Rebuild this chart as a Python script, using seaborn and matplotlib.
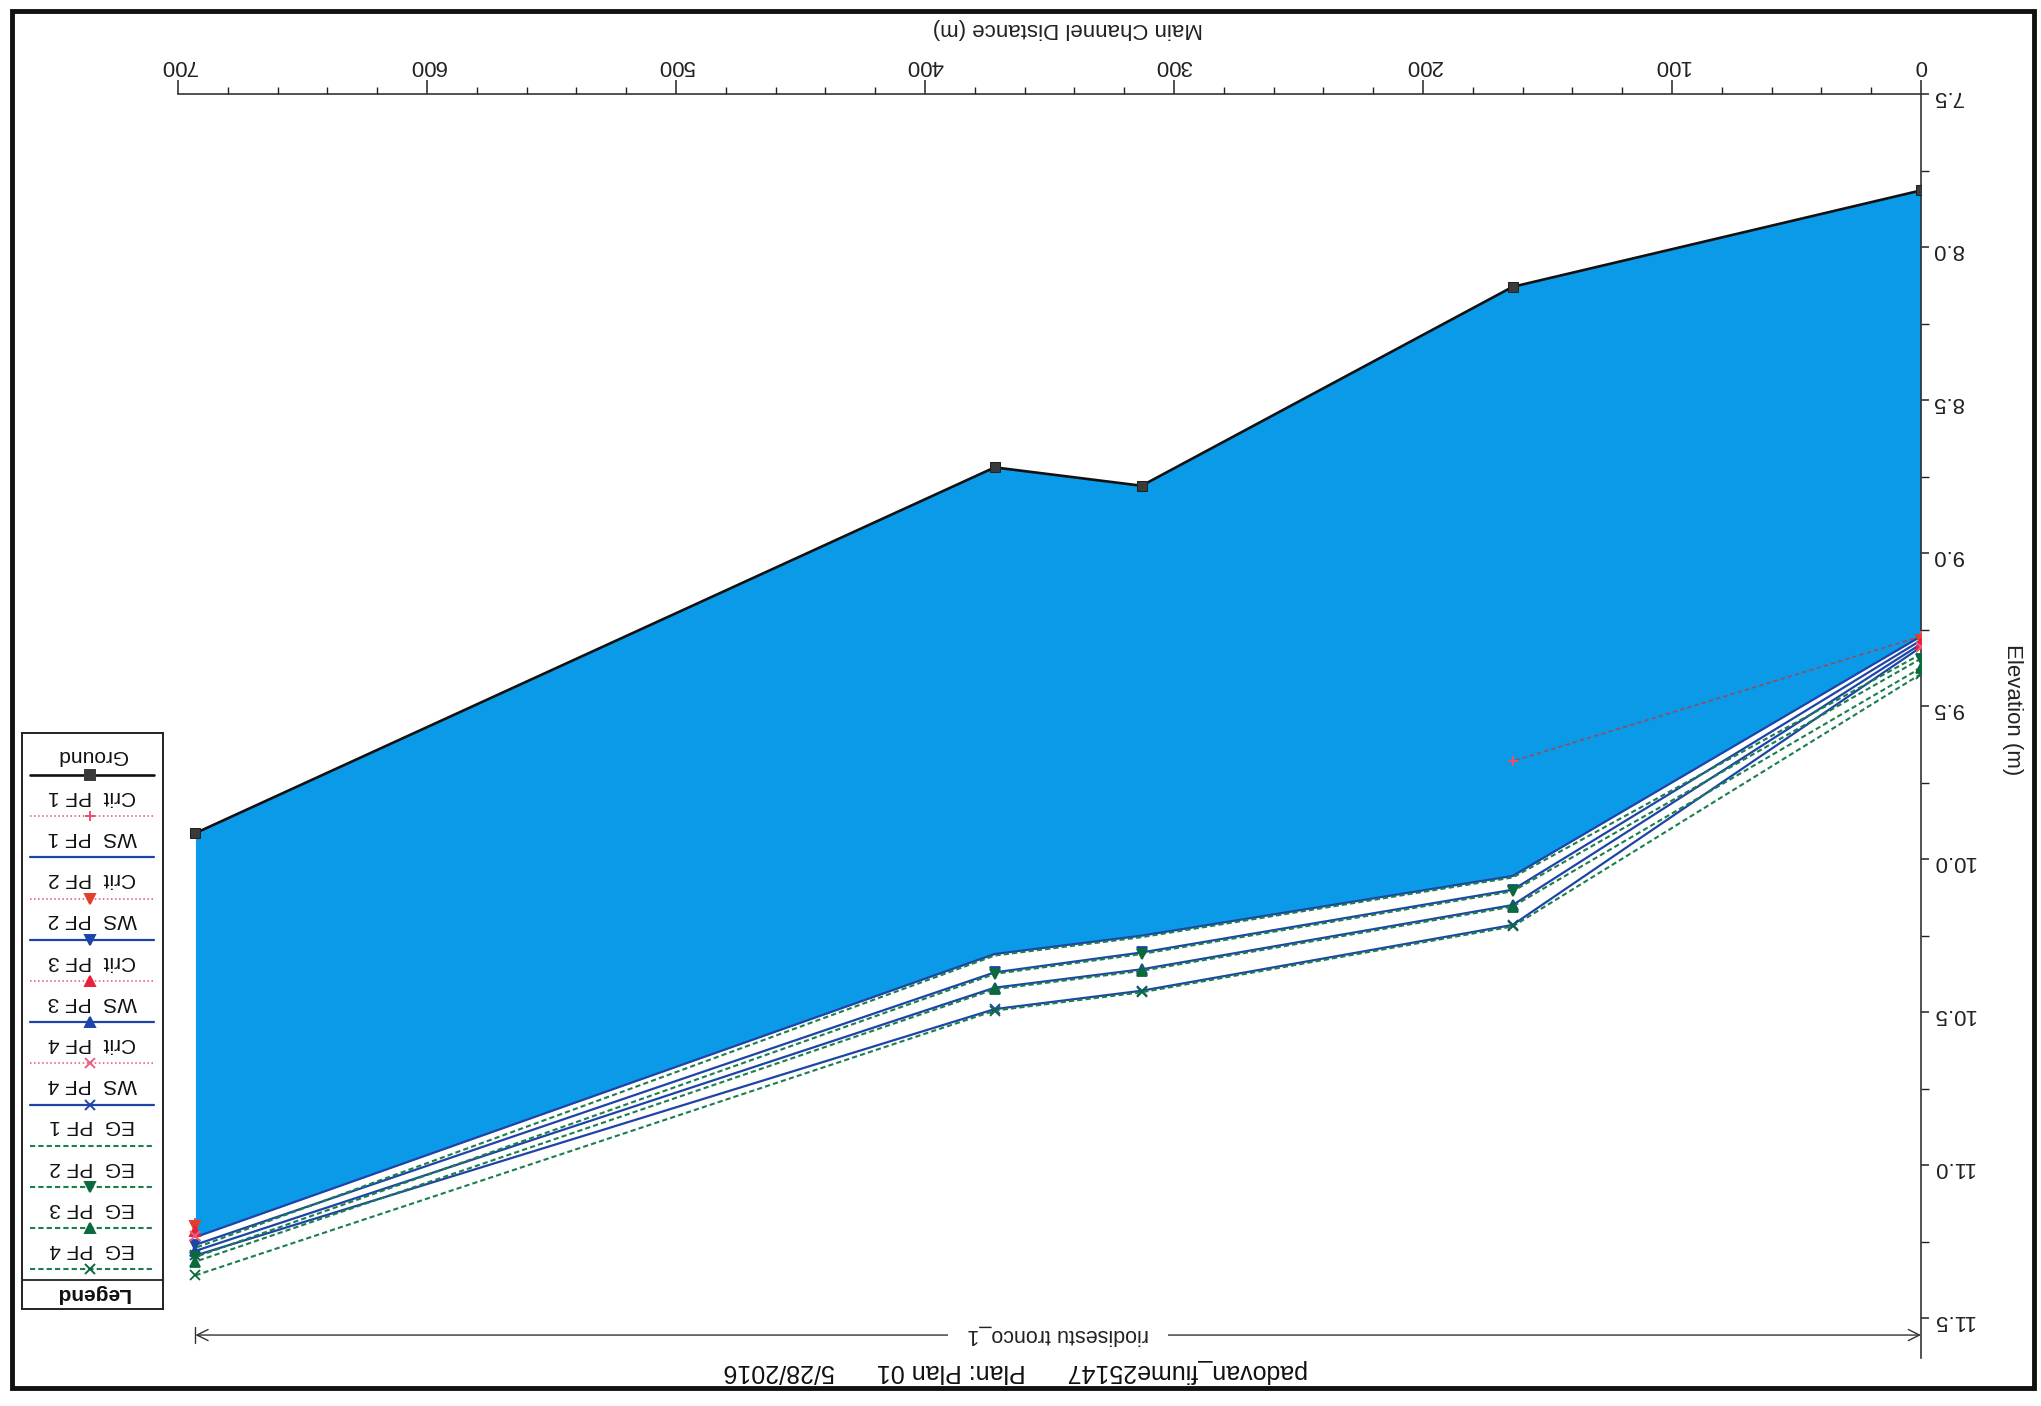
import numpy as np
import matplotlib
matplotlib.use("Agg")
import matplotlib.pyplot as plt
from matplotlib.patches import Rectangle
from matplotlib.ticker import MultipleLocator, FormatStrFormatter
import seaborn as sns

nan = np.nan

# River stations along the main channel (m)
stations = [0, 164, 313, 372, 693]

# Channel invert
ground = [7.815, 8.13, 8.78, 8.72, 9.915]

# Water surface per profile
ws_pf1 = [9.272, 10.055, 10.250, 10.310, 11.235]
ws_pf2 = [9.285, 10.100, 10.305, 10.370, 11.260]
ws_pf3 = [9.297, 10.150, 10.360, 10.420, 11.280]
ws_pf4 = [9.307, 10.215, 10.430, 10.490, 11.295]

# Energy grade line per profile
eg_pf1 = [9.330, 10.060, 10.255, 10.315, 11.270]
eg_pf2 = [9.345, 10.105, 10.310, 10.375, 11.300]
eg_pf3 = [9.375, 10.155, 10.365, 10.425, 11.315]
eg_pf4 = [9.395, 10.220, 10.435, 10.495, 11.360]

# Critical depth elevations (only where computed)
crit_pf1 = [9.272, 9.680, nan, nan, 11.190]
crit_pf2 = [9.285, nan, nan, nan, 11.200]
crit_pf3 = [9.297, nan, nan, nan, 11.215]
crit_pf4 = [9.307, nan, nan, nan, 11.230]

reach_name = "riodisestu tronco_1"
title_text = "padovan_fiume25147      Plan: Plan 01      5/28/2016"

W, H = 2041, 1406
sns.set_theme(style="ticks")
plt.rcParams["font.family"] = ["Liberation Sans", "DejaVu Sans"]

WATER = "#0A9AE8"
WS_C = "#1E44A8"
EG_C = "#1B7F4C"
EG_M = "#0B6A3C"
CRIT_C = "#E8506E"
CRIT_LINE = "#A04858"
CRIT_M = ["#E8506E", "#E2402A", "#E8203A", "#E86080"]
GROUND_C = "#111111"

fig = plt.figure(figsize=(W / 100, H / 100), dpi=100)
fig.patch.set_facecolor("white")

ax_l, ax_r, ax_t, ax_b = 178, 1921, 94, 1358
ax = fig.add_axes([ax_l / W, 1 - ax_b / H, (ax_r - ax_l) / W, (ax_b - ax_t) / H])
ax.set_facecolor("white")

# water body between bed and first profile
ax.fill_between(stations, ground, ws_pf1, color=WATER, lw=0, zorder=1)

ws_series = [(ws_pf1, None), (ws_pf2, "v"), (ws_pf3, "^"), (ws_pf4, "x")]
for vals, mk in ws_series:
    sns.lineplot(x=stations, y=vals, ax=ax, color=WS_C, lw=1.6, marker=mk,
                 markersize=6.5, markeredgecolor=WS_C, markerfacecolor=WS_C,
                 markeredgewidth=1.3, zorder=3, legend=False)

eg_series = [(eg_pf1, None), (eg_pf2, "v"), (eg_pf3, "^"), (eg_pf4, "x")]
for vals, mk in eg_series:
    sns.lineplot(x=stations, y=vals, ax=ax, color=EG_C, lw=1.5,
                 linestyle=(0, (2.5, 1.5)), marker=mk, markersize=6.5,
                 markeredgecolor=EG_M, markerfacecolor=EG_M,
                 markeredgewidth=1.3, zorder=4, legend=False)

crit_series = [(crit_pf1, "+"), (crit_pf2, "v"), (crit_pf3, "^"), (crit_pf4, "x")]
for (vals, mk), mc in zip(crit_series, CRIT_M):
    ax.plot(stations, vals, color=CRIT_LINE, lw=1.2, linestyle=(0, (2.5, 2)),
            marker=mk, markersize=6.5, markeredgecolor=mc, markerfacecolor=mc,
            markeredgewidth=1.4, zorder=5)

sns.lineplot(x=stations, y=ground, ax=ax, color=GROUND_C, lw=1.9, marker="s",
             markersize=6.5, markeredgecolor="#222222", markerfacecolor="#3a3a3a",
             zorder=6, legend=False)

# reach extent arrow with name
y_reach = 11.555
ax.annotate("", xy=(stations[0], y_reach), xytext=(stations[-1], y_reach),
            arrowprops=dict(arrowstyle="<->", lw=1.0, color="#333333",
                            shrinkA=0, shrinkB=0, mutation_scale=20), zorder=2)
ax.plot([stations[-1], stations[-1]], [y_reach - 0.025, y_reach + 0.025],
        color="#333333", lw=1.0)
ax.text((stations[0] + stations[-1]) / 2, y_reach, reach_name, rotation=180,
        ha="center", va="center", fontsize=15.5, color="#222222",
        bbox=dict(facecolor="white", edgecolor="none", pad=14), zorder=3)

ax.set_xlim(700, 0)
ax.set_ylim(11.63, 7.5)
ax.xaxis.set_major_locator(MultipleLocator(100))
ax.xaxis.set_minor_locator(MultipleLocator(20))
ax.yaxis.set_major_locator(MultipleLocator(0.5))
ax.yaxis.set_minor_locator(MultipleLocator(0.25))
ax.yaxis.set_major_formatter(FormatStrFormatter("%.1f"))
ax.xaxis.tick_top()
ax.yaxis.tick_right()
ax.tick_params(axis="x", which="major", direction="out", length=10, width=1.1,
               pad=3, labelsize=16, labelrotation=180, colors="#222222")
ax.tick_params(axis="x", which="minor", direction="out", length=5, width=1.0,
               colors="#222222")
ax.tick_params(axis="y", which="major", direction="out", length=6, width=1.1,
               pad=2, labelsize=16, labelrotation=180, colors="#222222")
ax.tick_params(axis="y", which="minor", direction="out", length=5.5, width=1.0,
               colors="#222222")
for side in ("left", "bottom"):
    ax.spines[side].set_visible(False)
for side in ("top", "right"):
    ax.spines[side].set_linewidth(1.2)
    ax.spines[side].set_color("#333333")
ax.set_xlabel("")
ax.set_ylabel("")

fig.text(1068 / W, 1 - 29 / H, "Main Channel Distance (m)", rotation=180,
         ha="center", va="center", fontsize=16, color="#222222")
fig.text(2012 / W, 1 - 710 / H, "Elevation (m)", rotation=270,
         ha="center", va="center", fontsize=16, color="#222222")
fig.text(1016 / W, 1 - 1371 / H, title_text, rotation=180,
         ha="center", va="center", fontsize=18, color="#111111")

# legend panel
lx0, lx1, ly0, ly1 = 22, 163, 733, 1309
lax = fig.add_axes([lx0 / W, 1 - ly1 / H, (lx1 - lx0) / W, (ly1 - ly0) / H])
lw_box, lh_box = lx1 - lx0, ly1 - ly0
lax.set_xlim(0, lw_box)
lax.set_ylim(lh_box, 0)
lax.set_xticks([])
lax.set_yticks([])
lax.set_facecolor("white")
for s in lax.spines.values():
    s.set_linewidth(1.4)
    s.set_color("#222222")

legend_items = [
    ("Ground", GROUND_C, "-", "s", "#3a3a3a", 1.9),
    ("Crit  PF 1", CRIT_C, ":", "+", CRIT_M[0], 1.1),
    ("WS  PF 1", WS_C, "-", None, WS_C, 1.6),
    ("Crit  PF 2", CRIT_C, ":", "v", CRIT_M[1], 1.1),
    ("WS  PF 2", WS_C, "-", "v", WS_C, 1.6),
    ("Crit  PF 3", CRIT_C, ":", "^", CRIT_M[2], 1.1),
    ("WS  PF 3", WS_C, "-", "^", WS_C, 1.6),
    ("Crit  PF 4", CRIT_C, ":", "x", CRIT_M[3], 1.1),
    ("WS  PF 4", WS_C, "-", "x", WS_C, 1.6),
    ("EG  PF 1", EG_C, (0, (2.5, 1.5)), None, EG_M, 1.5),
    ("EG  PF 2", EG_C, (0, (2.5, 1.5)), "v", EG_M, 1.5),
    ("EG  PF 3", EG_C, (0, (2.5, 1.5)), "^", EG_M, 1.5),
    ("EG  PF 4", EG_C, (0, (2.5, 1.5)), "x", EG_M, 1.5),
]
for i, (lab, col, ls, mk, mcol, lw) in enumerate(legend_items):
    ty = 22 + i * 41.2
    lax.text(lw_box / 2, ty, lab, rotation=180, ha="center", va="center",
             fontsize=15, color="#111111")
    lax.plot([8, lw_box - 9], [ty + 20, ty + 20], color=col, ls=ls, lw=lw)
    if mk:
        lax.plot([lw_box / 2 - 2], [ty + 20], marker=mk, color=mcol, ms=6.5,
                 mec=mcol, mew=1.4, ls="none")
lax.axhline(547, color="#222222", lw=1.3)
lax.text(lw_box / 2, 561, "Legend", rotation=180, ha="center", va="center",
         fontsize=15, fontweight="bold", color="#111111")

# page frame
fig.add_artist(Rectangle((12 / W, 1 - 1388 / H), (2034 - 12) / W, (1388 - 11) / H,
                         transform=fig.transFigure, fill=False, lw=3.5,
                         ec="#111111"))

fig.savefig("out.png", dpi=100)
